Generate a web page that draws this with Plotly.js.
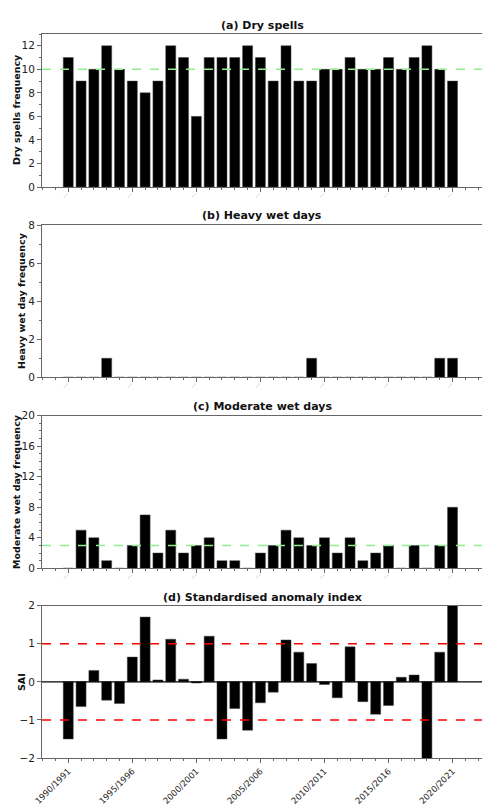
<!DOCTYPE html>
<html>
<head>
<meta charset="utf-8">
<script src="https://cdn.plot.ly/plotly-3.0.1.min.js"></script>
<style>html,body{margin:0;padding:0;background:#fff;}#chart{width:482px;height:806px;}</style>
</head>
<body>
<div id="chart"></div>
<script>
var seasons = ["1990/1991","1991/1992","1992/1993","1993/1994","1994/1995","1995/1996","1996/1997","1997/1998","1998/1999","1999/2000","2000/2001","2001/2002","2002/2003","2003/2004","2004/2005","2005/2006","2006/2007","2007/2008","2008/2009","2009/2010","2010/2011","2011/2012","2012/2013","2013/2014","2014/2015","2015/2016","2016/2017","2017/2018","2018/2019","2019/2020","2020/2021"];
var drySpells = [11,9,10,12,10,9,8,9,12,11,6,11,11,11,12,11,9,12,9,9,10,10,11,10,10,11,10,11,12,10,9];
var heavyWet = [0,0,0,1,0,0,0,0,0,0,0,0,0,0,0,0,0,0,0,1,0,0,0,0,0,0,0,0,0,1,1];
var moderateWet = [0,5,4,1,0,3,7,2,5,2,3,4,1,1,0,2,3,5,4,3,4,2,4,1,2,3,0,3,0,3,8];
var sai = [-1.5,-0.65,0.3,-0.48,-0.57,0.65,1.7,0.05,1.12,0.07,-0.03,1.2,-1.5,-0.7,-1.27,-0.55,-0.27,1.1,0.78,0.48,-0.07,-0.42,0.92,-0.52,-0.85,-0.62,0.12,0.18,-2.05,0.78,2.05];
var dryMean = 10;
var moderateMean = 3;
var saiThresholds = [1, -1];
var majorTickLabels = ["1990/1991","1995/1996","2000/2001","2005/2006","2010/2011","2015/2016","2020/2021"];

var H = 806, W = 482;
var xIdx = seasons.map(function(s, i){ return i; });
var majorVals = majorTickLabels.map(function(l){ return seasons.indexOf(l); });

function dom(top, bottom){ return [1 - bottom / H, 1 - top / H]; }
var xDom = [42 / W, 1];
var xRange = [-2.05, 32.3];

var axisCol = '#666';
var font = {family: 'DejaVu Sans, sans-serif', size: 10, color: '#222'};

function barTrace(y, n){
  return {type: 'bar', x: xIdx, y: y, xaxis: 'x' + (n === 1 ? '' : n), yaxis: 'y' + (n === 1 ? '' : n),
    width: 0.78, marker: {color: '#000', line: {color: '#444', width: 0.5}}, hoverinfo: 'skip', showlegend: false};
}

var data = [barTrace(drySpells, 1), barTrace(heavyWet, 2), barTrace(moderateWet, 3), barTrace(sai, 4)];

function xAxis(n, tiny){
  var a = {domain: xDom, range: xRange, anchor: 'y' + (n === 1 ? '' : n), showgrid: false, zeroline: false,
    showline: true, linecolor: axisCol, linewidth: 1, mirror: true,
    tickmode: 'array', tickvals: majorVals, ticktext: majorTickLabels, ticks: 'outside', ticklen: 4, tickcolor: axisCol, tickwidth: 1,
    tickangle: -45,
    minor: {tickmode: 'linear', tick0: 0, dtick: 1, ticks: 'outside', ticklen: 2, tickcolor: axisCol},
    fixedrange: true};
  if (tiny) { a.tickfont = {family: 'DejaVu Sans', size: 1.2, color: '#999'}; }
  else { a.tickfont = {family: 'DejaVu Sans, sans-serif', size: 8.5, color: '#222'}; }
  return a;
}
function yAxis(n, d, range, dtick, minorD){
  var a = {domain: d, range: range, anchor: 'x' + (n === 1 ? '' : n), showgrid: false, zeroline: false,
    showline: true, linecolor: axisCol, linewidth: 1, mirror: true,
    tickmode: 'linear', tick0: range[0], dtick: dtick, ticks: 'outside', ticklen: 4, tickcolor: axisCol,
    tickfont: {family: 'DejaVu Sans, sans-serif', size: 10.5, color: '#222'}, fixedrange: true};
  if (minorD) a.minor = {tickmode: 'linear', dtick: minorD, ticks: 'outside', ticklen: 2, tickcolor: axisCol};
  return a;
}

var layout = {
  width: W, height: H, margin: {l: 0, r: 0, t: 0, b: 0}, paper_bgcolor: '#fff', plot_bgcolor: '#fff',
  font: font, bargap: 0, showlegend: false,
  xaxis: xAxis(1, true), xaxis2: xAxis(2, true), xaxis3: xAxis(3, true), xaxis4: xAxis(4, false),
  yaxis: yAxis(1, dom(34, 187), [0, 13], 2, 1),
  yaxis2: yAxis(2, dom(225, 377.3), [0, 8], 2, 1),
  yaxis3: yAxis(3, dom(415.7, 568.3), [0, 20], 4, 1),
  yaxis4: yAxis(4, dom(605.7, 758), [-2, 2], 1, null),
  shapes: [
    {type: 'line', xref: 'x domain', yref: 'y', x0: 0, x1: 1, y0: dryMean, y1: dryMean, line: {color: '#90ee90', width: 1.5, dash: 'dash'}},
    {type: 'line', xref: 'x3 domain', yref: 'y3', x0: 0, x1: 1, y0: moderateMean, y1: moderateMean, line: {color: '#90ee90', width: 1.5, dash: 'dash'}},
    {type: 'line', xref: 'x4 domain', yref: 'y4', x0: 0, x1: 1, y0: 0, y1: 0, line: {color: '#000', width: 1.2}},
    {type: 'line', xref: 'x4 domain', yref: 'y4', x0: 0, x1: 1, y0: saiThresholds[0], y1: saiThresholds[0], line: {color: '#ff0000', width: 1.5, dash: 'dash'}},
    {type: 'line', xref: 'x4 domain', yref: 'y4', x0: 0, x1: 1, y0: saiThresholds[1], y1: saiThresholds[1], line: {color: '#ff0000', width: 1.5, dash: 'dash'}}
  ],
  annotations: []
};

var titles = [
  {text: '(a) Dry spells', y: 25},
  {text: '(b) Heavy wet days', y: 216},
  {text: '(c) Moderate wet days', y: 406},
  {text: '(d) Standardised anomaly index', y: 597}
];
titles.forEach(function(t){
  layout.annotations.push({text: '<b>' + t.text + '</b>', xref: 'paper', yref: 'paper', x: (42 + 482) / 2 / W, y: 1 - t.y / H,
    xanchor: 'center', yanchor: 'middle', showarrow: false, font: {family: 'DejaVu Sans, sans-serif', size: 11, color: '#111'}});
});
var yTitles = [
  {text: 'Dry spells frequency', x: 16, y: 110},
  {text: 'Heavy wet day frequency', x: 21, y: 301},
  {text: 'Moderate wet day frequency', x: 16, y: 492},
  {text: 'SAI', x: 21, y: 682}
];
yTitles.forEach(function(t){
  layout.annotations.push({text: '<b>' + t.text + '</b>', xref: 'paper', yref: 'paper', x: t.x / W, y: 1 - t.y / H,
    xanchor: 'center', yanchor: 'middle', textangle: -90, showarrow: false, font: {family: 'DejaVu Sans, sans-serif', size: 9.5, color: '#111'}});
});

Plotly.newPlot('chart', data, layout, {staticPlot: true, displayModeBar: false});
</script>
</body>
</html>
